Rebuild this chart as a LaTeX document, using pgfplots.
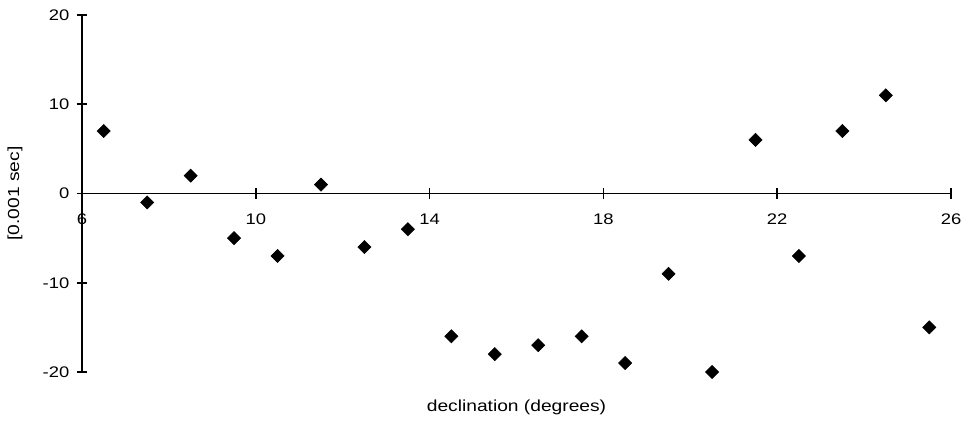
\documentclass[border=0pt]{standalone}
\usepackage{fontspec}
\setmainfont{Liberation Sans}[FakeStretch=1.2]
\usepackage{pgfplots}
\pgfplotsset{compat=1.18}
\usepackage{pgfplotstable}
\pgfplotstableread{
x y
6.5 7
7.5 -1
8.5 2
9.5 -5
10.5 -7
11.5 1
12.5 -6
13.5 -4
14.5 -16
15.5 -18
16.5 -17
17.5 -16
18.5 -19
19.5 -9
20.5 -20
21.5 6
22.5 -7
23.5 7
24.5 11
25.5 -15
}\datatable
\begin{document}
\begin{tikzpicture}
\begin{axis}[
  scale only axis,
  width=651.75pt, height=267.75pt,
  xmin=6, xmax=26, ymin=-20, ymax=20,
  axis x line=middle, axis y line=left,
  axis line style={-, line width=1.4pt, black},
  xtick={6,10,14,18,22,26}, ytick={-20,-10,0,10,20},
  tick align=center, major tick length=8pt,
  tick style={line width=1.3pt, black},
  hide obscured x ticks=false, hide obscured y ticks=false,
  /pgf/number format/assume math mode=true,
  tick label style={font=\fontsize{11.5}{13}\selectfont},
  xticklabel style={anchor=north, yshift=-8pt},
  yticklabel style={anchor=east, xshift=-2pt},
  every axis x label/.style={at={(rel axis cs:0.5,0)}, anchor=center, yshift=-26.25pt, font=\fontsize{12}{14}\selectfont},
  every axis y label/.style={at={(rel axis cs:0,0.5)}, anchor=center, xshift=-50.25pt, rotate=90, font=\fontsize{12}{14}\selectfont},
  xlabel={declination (degrees)},
  ylabel={[0.001 sec]},
  clip=false,
]
\coordinate (o) at (rel axis cs:0,0);
\addplot[only marks, mark=square*, mark size=3.5pt, mark options={rotate=45, fill=black, draw=black}] table[x=x,y=y] {\datatable};
\end{axis}
\pgfresetboundingbox
\path ([shift={(-61.5pt,-36.75pt)}]o) rectangle ++(726.75pt,315.75pt);
\end{tikzpicture}
\end{document}
